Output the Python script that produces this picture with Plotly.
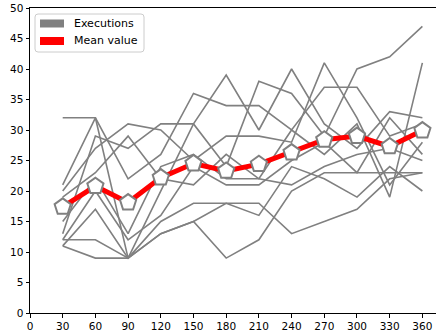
import plotly.graph_objects as go

x_values = [30, 60, 90, 120, 150, 180, 210, 240, 270, 300, 330, 360]

exec_1 = [32, 32, 22, 26, 36, 34, 34, 30, 37, 37, 29, 31]
exec_2 = [21, 32, 9, 20, 31, 39, 30, 40, 31, 27, 33, 32]
exec_3 = [20, 27, 31, 30, 25, 29, 29, 28, 41, 32, 21, 28]
exec_4 = [13, 29, 27, 31, 31, 24, 38, 36, 29, 40, 42, 47]
exec_5 = [15, 22, 13, 24, 26, 22, 22, 30, 26, 31, 19, 41]
exec_6 = [19, 23, 29, 22, 21, 26, 22, 21, 24, 26, 27, 25]
exec_7 = [12, 20, 12, 16, 24, 21, 21, 25, 28, 23, 32, 26]
exec_8 = [11, 17, 9, 15, 18, 18, 16, 24, 22, 19, 24, 20]
exec_9 = [12, 12, 9, 13, 15, 18, 18, 13, 15, 17, 22, 23]
exec_10 = [11, 9, 9, 13, 15, 9, 12, 20, 23, 23, 23, 23]
executions = [exec_1, exec_2, exec_3, exec_4, exec_5, exec_6, exec_7, exec_8, exec_9, exec_10]

mean_values = [17.4, 20.8, 18.1, 22.2, 24.5, 23.3, 24.4, 26.3, 28.4, 29.0, 27.3, 29.9]

x_ticks = [0, 30, 60, 90, 120, 150, 180, 210, 240, 270, 300, 330, 360]
y_ticks = [0, 5, 10, 15, 20, 25, 30, 35, 40, 45, 50]
legend_labels = ["Executions", "Mean value"]

GRAY = "#808080"
W, H = 436, 335
ML, MR, MT, MB = 30, 0, 8, 22

fig = go.Figure()
for i, ys in enumerate(executions):
    fig.add_trace(go.Scatter(x=x_values, y=ys, mode="lines", name=legend_labels[0],
                             legendgroup="exec",
                             line=dict(color=GRAY, width=1.6),
                             showlegend=False, hoverinfo="skip"))

fig.add_trace(go.Scatter(x=x_values, y=mean_values, mode="lines+markers",
                         name=legend_labels[1],
                         line=dict(color="red", width=5),
                         marker=dict(symbol="pentagon", size=17, color="white",
                                     line=dict(color=GRAY, width=2)),
                         showlegend=False))

# hand-drawn legend box (pixel positions converted to paper coordinates)
pw, ph = W - ML - MR, H - MT - MB


def px(x):
    return (x - ML) / pw


def py(y):
    return (H - MB - y) / ph


x0, x1, y0, y1, r = 35, 144, 14, 52, 3
path = (f"M {px(x0 + r)},{py(y0)} L {px(x1 - r)},{py(y0)} "
        f"Q {px(x1)},{py(y0)} {px(x1)},{py(y0 + r)} "
        f"L {px(x1)},{py(y1 - r)} Q {px(x1)},{py(y1)} {px(x1 - r)},{py(y1)} "
        f"L {px(x0 + r)},{py(y1)} Q {px(x0)},{py(y1)} {px(x0)},{py(y1 - r)} "
        f"L {px(x0)},{py(y0 + r)} Q {px(x0)},{py(y0)} {px(x0 + r)},{py(y0)} Z")
shapes = [dict(type="path", xref="paper", yref="paper", path=path,
               fillcolor="rgba(255,255,255,0.8)", line=dict(color="#cccccc", width=1))]
annotations = []
for label, color, cy in [(legend_labels[0], GRAY, 23.5), (legend_labels[1], "red", 41)]:
    shapes.append(dict(type="rect", xref="paper", yref="paper",
                       x0=px(40), x1=px(64), y0=py(cy - 4), y1=py(cy + 4),
                       fillcolor=color, line=dict(width=0)))
    annotations.append(dict(xref="paper", yref="paper", x=px(72), y=py(cy),
                            xanchor="left", yanchor="middle", showarrow=False,
                            text=label, font=dict(family="DejaVu Sans", size=11, color="black")))

axis_font = dict(family="DejaVu Sans", size=10.5, color="black")
fig.update_layout(
    width=W, height=H,
    margin=dict(l=ML, r=MR, t=MT, b=MB, pad=0),
    paper_bgcolor="white", plot_bgcolor="white",
    font=dict(family="DejaVu Sans", size=10.5, color="black"),
    showlegend=False,
    hovermode=False,
    shapes=shapes, annotations=annotations,
    xaxis=dict(range=[0, 372.5], tickmode="array", tickvals=x_ticks,
               ticks="outside", ticklen=3.5, tickwidth=1, tickcolor="black",
               showline=True, linecolor="black", linewidth=1, mirror=True,
               showgrid=False, zeroline=False, tickfont=axis_font),
    yaxis=dict(range=[0, 50], tickmode="array", tickvals=y_ticks,
               ticks="outside", ticklen=3.5, tickwidth=1, tickcolor="black",
               showline=True, linecolor="black", linewidth=1,
               showgrid=False, zeroline=False, tickfont=axis_font),
)

fig.write_html("out.html", config={"displayModeBar": False},
               post_script="document.body.style.margin='0px';")
